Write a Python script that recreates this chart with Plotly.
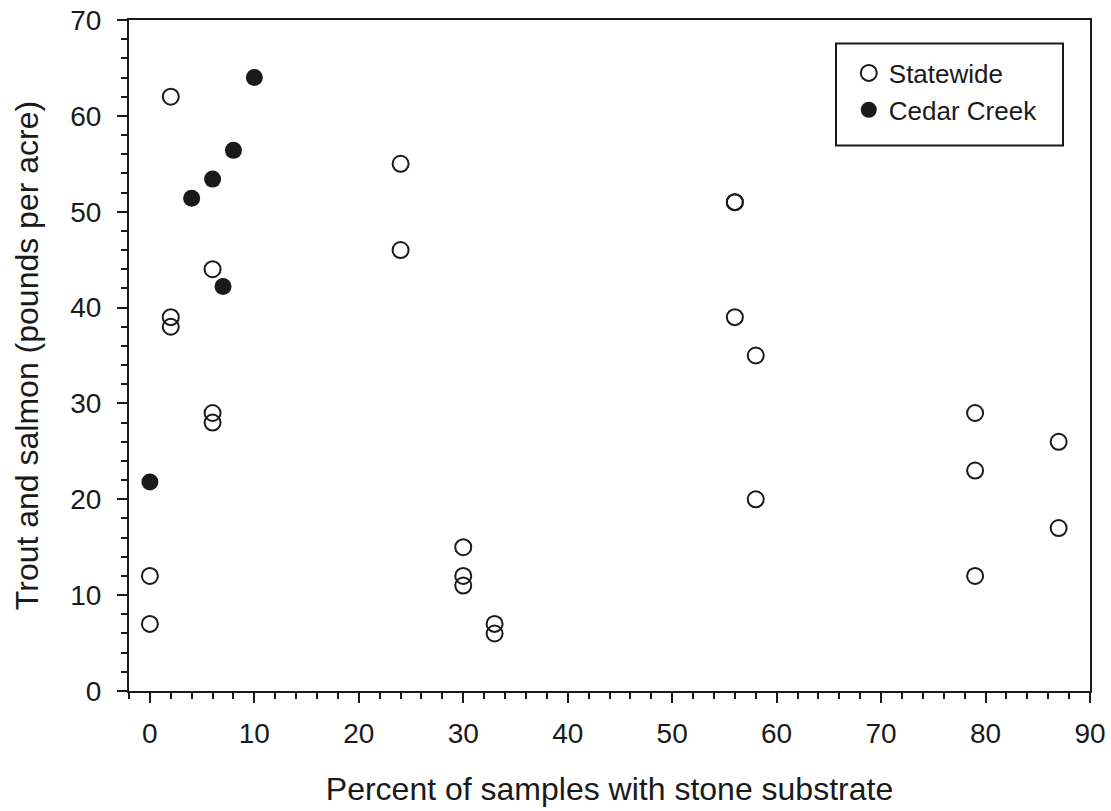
import plotly.graph_objects as go

# Statewide survey sites
statewide_x = [0, 0, 2, 2, 2, 6, 6, 6, 24, 24, 30, 30, 30, 33, 33, 56, 56, 56, 58, 58, 79, 79, 79, 87, 87]
statewide_y = [7, 12, 62, 39, 38, 44, 29, 28, 55, 46, 15, 12, 11, 7, 6, 51, 51, 39, 35, 20, 29, 23, 12, 26, 17]

# Cedar Creek sites
cedar_x = [0, 4, 6, 7, 8, 10]
cedar_y = [21.8, 51.4, 53.4, 42.2, 56.4, 64.0]

ink = "#1a1a1a"
font = "Liberation Sans, Arial, sans-serif"

fig = go.Figure()
fig.add_trace(go.Scatter(
    x=statewide_x, y=statewide_y, mode="markers", name="Statewide",
    marker=dict(symbol="circle-open", size=16, color=ink, line=dict(width=2, color=ink)),
))
fig.add_trace(go.Scatter(
    x=cedar_x, y=cedar_y, mode="markers", name="Cedar Creek",
    marker=dict(symbol="circle", size=17, color=ink, line=dict(width=0)),
))

axis_common = dict(
    showline=True, linecolor=ink, linewidth=2, mirror=True,
    ticks="outside", ticklen=10, tickwidth=2, tickcolor=ink,
    showgrid=False, zeroline=False, automargin=False,
    tickfont=dict(size=28, color=ink, family=font),
)

fig.update_xaxes(
    range=[-2, 90], dtick=10, tick0=0,
    minor=dict(dtick=2, tick0=0, ticks="outside", ticklen=6, tickwidth=2, tickcolor=ink, showgrid=False),
    ticklabelstandoff=6,
    title=dict(text="Percent of samples with stone substrate", font=dict(size=32, color=ink, family=font), standoff=30),
    **axis_common,
)
fig.update_yaxes(
    range=[0, 70], dtick=10, tick0=0,
    minor=dict(dtick=2, tick0=0, ticks="outside", ticklen=6, tickwidth=2, tickcolor=ink, showgrid=False),
    ticklabelstandoff=10,
    title=dict(text="Trout and salmon (pounds per acre)", font=dict(size=32, color=ink, family=font), standoff=22),
    **axis_common,
)

# framed box behind the legend entries (roomier than the built-in legend border)
fig.add_shape(
    type="rect", xref="paper", yref="paper",
    x0=0.7357, x1=0.9719, y0=0.8131, y1=0.965,
    line=dict(color=ink, width=2), fillcolor="white", layer="above",
)

fig.update_layout(
    width=1111, height=811,
    margin=dict(l=129, r=21, t=20, b=120, autoexpand=False),
    paper_bgcolor="white", plot_bgcolor="white",
    font=dict(family=font, color=ink),
    showlegend=True,
    legend=dict(
        x=0.749, y=0.956, xanchor="left", yanchor="top",
        bgcolor="rgba(0,0,0,0)", borderwidth=0,
        font=dict(size=26, color=ink, family=font),
        itemwidth=30,
    ),
)

fig.write_html("out.html")
